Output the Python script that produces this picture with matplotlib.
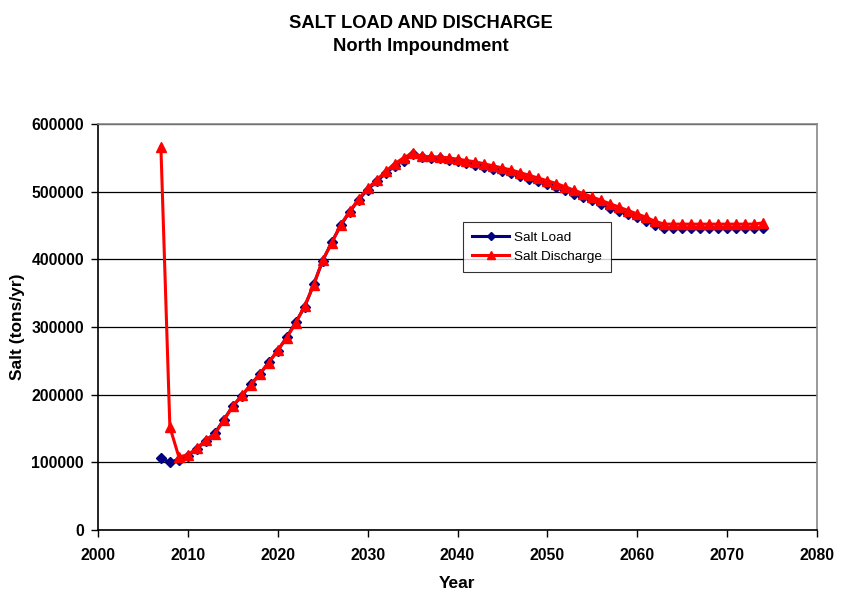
import matplotlib
matplotlib.use('Agg')
import matplotlib.pyplot as plt

plt.rcParams['font.family'] = ['Liberation Sans', 'DejaVu Sans']

# --- DATA ---
years = list(range(2007, 2075))

salt_load = [
    106000, 100000, 104000, 110000, 120000, 132000, 143000, 163000, 183000, 198000,
    215000, 230000, 248000, 265000, 285000, 307000, 330000, 363000, 398000, 425000,
    450000, 470000, 488000, 503000, 515000, 527000, 538000, 546000, 555000, 551000,
    550000, 549000, 547000, 545000, 543000, 540000, 537000, 534000, 531000, 527000,
    523000, 519000, 515000, 511000, 507000, 502000, 497000, 492000, 487000, 482000,
    476000, 471000, 467000, 462000, 457000, 451000, 446000, 446000, 446000, 446000,
    446000, 446000, 446000, 446000, 446000, 446000, 446000, 446000,
]

salt_discharge = [
    566000, 152000, 108000, 111000, 121000, 133000, 142000, 162000, 183000, 199000,
    214000, 231000, 247000, 266000, 284000, 306000, 331000, 362000, 399000, 424000,
    451000, 471000, 489000, 505000, 517000, 530000, 541000, 550000, 557000, 552000,
    552000, 551000, 550000, 548000, 546000, 544000, 541000, 538000, 535000, 532000,
    528000, 524000, 520000, 516000, 512000, 507000, 502000, 497000, 492000, 487000,
    482000, 477000, 472000, 467000, 462000, 456000, 452000, 452000, 452000, 452000,
    452000, 452000, 452000, 452000, 452000, 452000, 452000, 454000,
]

# --- PLOT ---
fig = plt.figure(figsize=(8.41, 6.03), dpi=100)
ax = fig.add_axes([0.1165, 0.1211, 0.855, 0.6733])

ax.plot(years, salt_load, color='#000080', marker='D', markersize=5.5,
        linewidth=2.2, label='Salt Load', zorder=3)
ax.plot(years, salt_discharge, color='#FF0000', marker='^', markersize=6.5,
        linewidth=2.2, label='Salt Discharge', zorder=4)

ax.set_xlim(2000, 2080)
ax.set_ylim(0, 600000)
ax.set_xticks(range(2000, 2081, 10))
ax.set_yticks(range(0, 600001, 100000))
ax.yaxis.grid(True, color='black', linewidth=0.9)
ax.set_axisbelow(True)

for lbl in ax.get_xticklabels() + ax.get_yticklabels():
    lbl.set_fontweight('bold')
ax.tick_params(labelsize=11.3, direction='out', length=5, width=1)
ax.tick_params(axis='x', pad=8)
ax.tick_params(axis='y', pad=5)

ax.spines['left'].set_color('black')
ax.spines['bottom'].set_color('black')
ax.spines['top'].set_color('#888888')
ax.spines['right'].set_color('#888888')
for s in ax.spines.values():
    s.set_linewidth(1.2)

ax.set_xlabel('Year', fontsize=12.5, fontweight='bold', labelpad=9)
ax.set_ylabel('Salt (tons/yr)', fontsize=12.5, fontweight='bold', labelpad=5)

fig.text(0.5, 0.961, 'SALT LOAD AND DISCHARGE', ha='center', va='center',
         fontsize=13.2, fontweight='bold')
fig.text(0.5, 0.923, 'North Impoundment', ha='center', va='center',
         fontsize=13.2, fontweight='bold')

leg = ax.legend(loc='upper left', bbox_to_anchor=(0.5077, 0.7586), borderaxespad=0,
                fontsize=9.7, frameon=True, fancybox=False, edgecolor='black',
                borderpad=0.7, handlelength=2.7, labelspacing=0.5,
                handletextpad=0.35, markerscale=0.8)
leg.get_frame().set_linewidth(0.8)

fig.savefig('out.png', dpi=100)
